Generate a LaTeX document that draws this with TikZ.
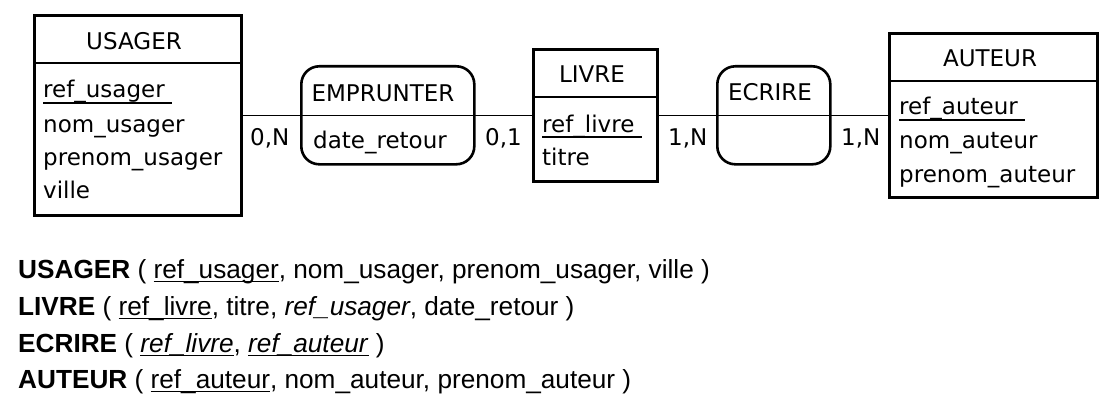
\documentclass[tikz,border=0pt]{standalone}
\usepackage{fontspec}
\setmainfont{DejaVu Sans}
\newfontfamily\schemafont{Liberation Sans}
\usetikzlibrary{positioning}
% soulignement : #1 = profondeur sous la ligne de base
\newcommand{\souligne}[2]{{\setbox0\hbox{#2}\rlap{\vrule height -#1 depth \dimexpr#1+1.6pt\relax width \wd0}\box0}}
\newcommand{\cle}[1]{\souligne{4pt}{#1}}
\newcommand{\rcle}[1]{\souligne{2.8pt}{#1}}

\begin{document}
\begin{tikzpicture}[x=1pt, y=-1pt, font=\fontsize{23}{27}\selectfont,
    entity/.style ={draw, line width=2.6pt, anchor=north west, inner sep=0pt},
    association/.style ={draw, line width=2.6pt, rounded corners=18pt, anchor=north west, inner sep=0pt},
    divider/.style ={line width=1.4pt},
    link/.style ={line width=1.5pt},
    title/.style ={anchor=base, inner sep=0pt},
    attribute/.style ={anchor=base west, inner sep=0pt},
    card/.style ={anchor=base west, inner sep=0pt},
    schema/.style ={anchor=base west, inner sep=0pt, font=\schemafont\fontsize{26.2}{30}\selectfont}]
   \useasboundingbox (0,0) rectangle (1118,409);

   % entites et associations
   \node[entity, minimum width=207, minimum height=200] (usager) at (33,14) {};
   \node[association, minimum width=173, minimum height=98] (emprunter) at (300,65) {};
   \node[entity, minimum width=124, minimum height=132] (livre) at (532,48) {};
   \node[association, minimum width=113, minimum height=98] (ecrire) at (716,65) {};
   \node[entity, minimum width=208, minimum height=164] (auteur) at (888,32) {};

   \draw[divider] ([yshift=-49pt]usager.north west) -- ([yshift=-49pt]usager.north east);
   \draw[divider] ([yshift=-49pt]livre.north west) -- ([yshift=-49pt]livre.north east);
   \draw[divider] ([yshift=-49pt]auteur.north west) -- ([yshift=-49pt]auteur.north east);

   \draw[link] (usager) to (emprunter);
   \draw[link] (emprunter.west) to (emprunter.east);
   \draw[link] (emprunter) to (livre);
   \draw[link] (livre) to (ecrire);
   \draw[link] (ecrire.west) to (ecrire.east);
   \draw[link] (ecrire) to (auteur);

   % titres
   \node[title] (usager-t) at (134,50) {USAGER};
   \node[title] (emprunter-t) at (383,102) {EMPRUNTER};
   \node[title] (livre-t) at (592,83) {LIVRE};
   \node[title] (ecrire-t) at (770,101) {ECRIRE};
   \node[title] (auteur-t) at (990,67) {AUTEUR};

   % attributs
   \node[attribute] (ref-usager) at (43,98) {\cle{ref\_usager\ }};
   \node[attribute] (nom-usager) at (43,132) {nom\_usager};
   \node[attribute] (prenom-usager) at (43,165) {prenom\_usager};
   \node[attribute] (ville) at (43,198) {ville};
   \node[attribute] (date-retour) at (313,148) {date\_retour};
   \node[attribute] (ref-livre) at (542,132) {\cle{ref\_livre\ }};
   \node[attribute] (titre) at (542,165) {titre};
   \node[attribute] (ref-auteur) at (899,115) {\cle{ref\_auteur\ }};
   \node[attribute] (nom-auteur) at (899,148) {nom\_auteur};
   \node[attribute] (prenom-auteur) at (899,182) {prenom\_auteur};

   % cardinalites
   \node[card] (card-usager) at (250,146) {0,N};
   \node[card] (card-livre-e) at (485,146) {0,1};
   \node[card] (card-livre-c) at (668,146) {1,N};
   \node[card] (card-auteur) at (841,146) {1,N};

   % schema relationnel
   \node[schema] (rel-usager) at (18,278) {\textbf{USAGER} ( \rcle{ref\_usager}, nom\_usager, prenom\_usager, ville )};
   \node[schema] (rel-livre) at (18,315) {\textbf{LIVRE} ( \rcle{ref\_livre}, titre, \textit{ref\_usager}, date\_retour )};
   \node[schema] (rel-ecrire) at (18,352) {\textbf{ECRIRE} ( \rcle{\textit{ref\_livre}}, \rcle{\textit{ref\_auteur}} )};
   \node[schema] (rel-auteur) at (18,388) {\textbf{AUTEUR} ( \rcle{ref\_auteur}, nom\_auteur, prenom\_auteur )};
\end{tikzpicture}
\end{document}
